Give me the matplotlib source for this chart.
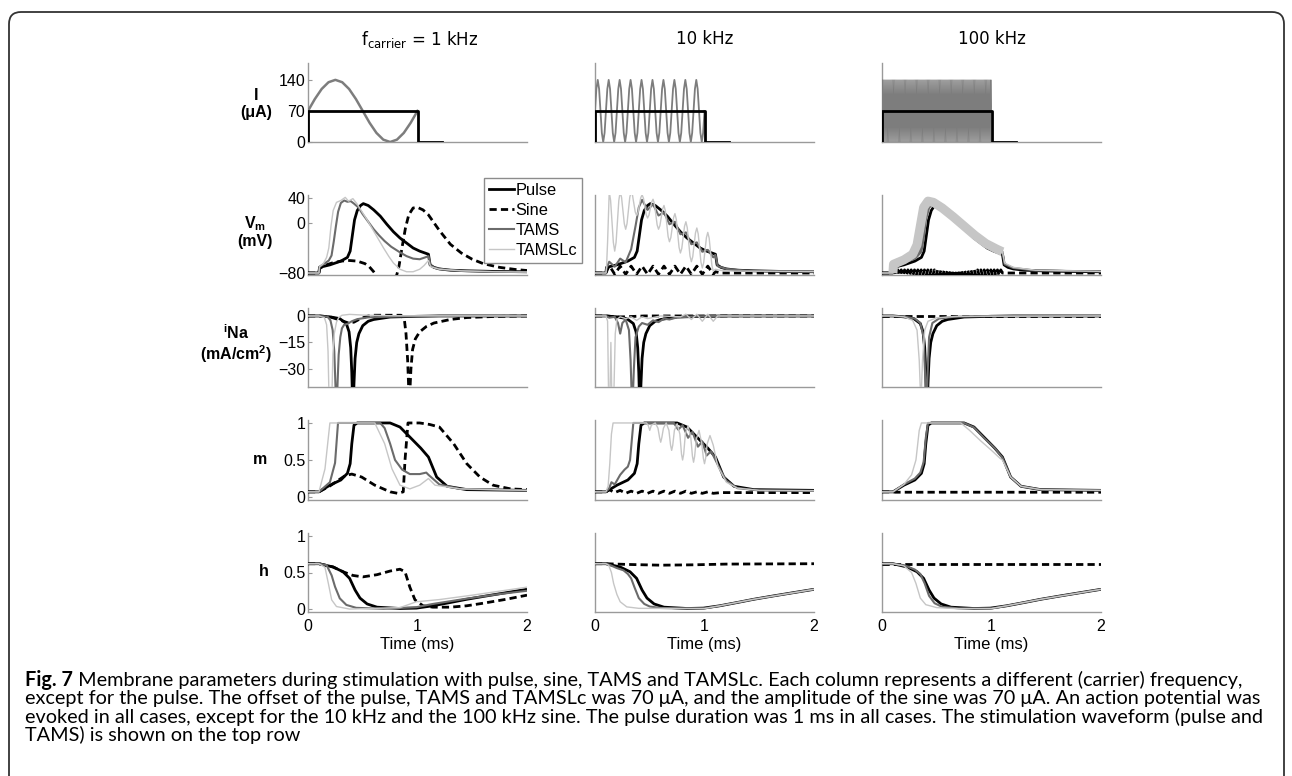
import numpy as np
import matplotlib.pyplot as plt
from matplotlib.patches import FancyBboxPatch
from matplotlib.transforms import IdentityTransform
from matplotlib.lines import Line2D

W, H, DPI = 1292, 776, 100

plt.rcParams['font.family'] = ['Liberation Sans', 'DejaVu Sans']
plt.rcParams['mathtext.fontset'] = 'custom'
plt.rcParams['mathtext.rm'] = 'Liberation Sans'
plt.rcParams['mathtext.it'] = 'Liberation Sans:italic'
plt.rcParams['mathtext.bf'] = 'Liberation Sans:bold'

# ---------------- data (time in ms) ----------------
col_titles = [r'f$_{\mathregular{carrier}}$ = 1 kHz', '10 kHz', '100 kHz']
series_names = ['Pulse', 'Sine', 'TAMS', 'TAMSLc']

# top row: stimulation current (uA)
i_pulse = [(0, 0), (0, 70), (1, 70), (1, 0), (1.22, 0)]
i_tams_1k = [(0, 70), (0.0625, 96.8), (0.125, 119.5), (0.1875, 134.7), (0.25, 140),
             (0.3125, 134.7), (0.375, 119.5), (0.4375, 96.8), (0.5, 70), (0.5625, 43.2),
             (0.625, 20.5), (0.6875, 5.3), (0.75, 0), (0.8125, 5.3), (0.875, 20.5),
             (0.9375, 43.2), (1.0, 70)]
# sampled every 0.0125 ms from 0 to 1 ms
i_tams_10k = [
    70, 119.5, 140, 119.5, 70, 20.5, 0, 20.5,
    70, 119.5, 140, 119.5, 70, 20.5, 0, 20.5,
    70, 119.5, 140, 119.5, 70, 20.5, 0, 20.5,
    70, 119.5, 140, 119.5, 70, 20.5, 0, 20.5,
    70, 119.5, 140, 119.5, 70, 20.5, 0, 20.5,
    70, 119.5, 140, 119.5, 70, 20.5, 0, 20.5,
    70, 119.5, 140, 119.5, 70, 20.5, 0, 20.5,
    70, 119.5, 140, 119.5, 70, 20.5, 0, 20.5,
    70, 119.5, 140, 119.5, 70, 20.5, 0, 20.5,
    70, 119.5, 140, 119.5, 70, 20.5, 0, 20.5,
    70]
# sampled every 0.005 ms from 0 to 1 ms
i_tams_100k = [
    70,
    140, 0, 140, 0, 140, 0, 140, 0, 140, 0,
    140, 0, 140, 0, 140, 0, 140, 0, 140, 0,
    140, 0, 140, 0, 140, 0, 140, 0, 140, 0,
    140, 0, 140, 0, 140, 0, 140, 0, 140, 0,
    140, 0, 140, 0, 140, 0, 140, 0, 140, 0,
    140, 0, 140, 0, 140, 0, 140, 0, 140, 0,
    140, 0, 140, 0, 140, 0, 140, 0, 140, 0,
    140, 0, 140, 0, 140, 0, 140, 0, 140, 0,
    140, 0, 140, 0, 140, 0, 140, 0, 140, 0,
    140, 0, 140, 0, 140, 0, 140, 0, 140, 0,
    140, 0, 140, 0, 140, 0, 140, 0, 140, 0,
    140, 0, 140, 0, 140, 0, 140, 0, 140, 0,
    140, 0, 140, 0, 140, 0, 140, 0, 140, 0,
    140, 0, 140, 0, 140, 0, 140, 0, 140, 0,
    140, 0, 140, 0, 140, 0, 140, 0, 140, 0,
    140, 0, 140, 0, 140, 0, 140, 0, 140, 0,
    140, 0, 140, 0, 140, 0, 140, 0, 140, 0,
    140, 0, 140, 0, 140, 0, 140, 0, 140, 0,
    140, 0, 140, 0, 140, 0, 140, 0, 140, 0,
    140, 0, 140, 0, 140, 0, 140, 0, 140,
    70]

# membrane potential (mV)
vm_pulse = [(0, -80), (0.1, -80), (0.105, -71), (0.2, -67), (0.3, -61), (0.36, -55), (0.385, -45),
            (0.405, -20), (0.425, 5), (0.45, 20), (0.48, 28), (0.505, 31), (0.55, 28), (0.6, 21),
            (0.66, 11), (0.72, -2), (0.78, -14), (0.84, -24), (0.9, -32), (0.96, -40), (1.02, -45),
            (1.1, -50), (1.115, -67), (1.15, -71), (1.2, -73.5), (1.3, -75.5), (1.45, -76.5),
            (1.7, -77.5), (2.0, -78)]
vm_sine_1k = [(0, -80), (0.1, -80), (0.105, -73), (0.15, -68), (0.22, -64), (0.3, -61), (0.38, -60),
              (0.45, -61), (0.52, -65), (0.56, -70), (0.6, -78), (0.64, -88), (0.72, -97), (0.8, -90),
              (0.83, -70), (0.86, -38), (0.89, -8), (0.92, 13), (0.96, 24), (1.0, 25), (1.05, 21),
              (1.1, 13), (1.2, -12), (1.3, -34), (1.4, -48), (1.5, -58), (1.6, -65), (1.75, -71),
              (1.9, -74.5), (2.0, -76)]
vm_tams_1k = [(0, -80), (0.1, -80), (0.105, -70), (0.15, -65), (0.19, -60), (0.215, -52), (0.235, -30),
              (0.255, -5), (0.275, 18), (0.3, 32), (0.33, 36), (0.36, 34), (0.39, 35), (0.42, 31),
              (0.46, 25), (0.5, 14), (0.55, 2), (0.6, -10), (0.65, -20), (0.7, -29), (0.76, -38),
              (0.84, -47), (0.9, -53), (0.96, -57), (1.02, -58), (1.07, -55), (1.1, -53), (1.12, -68),
              (1.16, -72), (1.25, -74.5), (1.4, -76.5), (1.7, -78), (2.0, -78.5)]
vm_tamslc_1k = [(0, -80), (0.1, -80), (0.105, -70), (0.14, -65), (0.17, -55), (0.19, -40), (0.21, -5),
                (0.23, 20), (0.26, 33), (0.3, 36), (0.34, 41), (0.37, 35), (0.41, 39), (0.45, 30),
                (0.5, 16), (0.54, 5), (0.6, -13), (0.65, -28), (0.69, -40), (0.74, -54), (0.78, -64),
                (0.84, -74), (0.9, -78), (0.96, -78), (1.02, -74), (1.06, -68), (1.1, -60), (1.12, -70),
                (1.2, -74), (1.4, -76.5), (1.7, -78), (2.0, -78.5)]
vm_sine_10k = [(0, -80), (0.1, -80), (0.13, -68), (0.18, -82), (0.23, -69), (0.28, -82), (0.33, -69),
               (0.38, -82), (0.43, -69), (0.48, -82), (0.53, -69), (0.58, -82), (0.63, -69), (0.68, -82),
               (0.73, -69), (0.78, -82), (0.83, -69), (0.88, -82), (0.93, -69), (0.98, -82), (1.03, -69),
               (1.08, -82), (1.1, -78), (1.15, -80), (2.0, -80)]
vm_tams_10k = [(0, -80), (0.1, -80), (0.105, -72), (0.13, -62), (0.18, -70), (0.23, -57), (0.28, -63),
               (0.33, -42), (0.37, -5), (0.4, 25), (0.43, 37), (0.48, 21), (0.53, 30), (0.58, 12),
               (0.63, 17), (0.68, -2), (0.73, 2), (0.78, -18), (0.83, -15), (0.88, -34), (0.93, -31),
               (0.98, -46), (1.03, -43), (1.08, -55), (1.1, -51), (1.12, -69), (1.2, -73.5), (1.4, -76.5),
               (1.7, -77.5), (2.0, -78)]
vm_tamslc_10k = [(0, -80), (0.1, -80), (0.105, -72), (0.115, -30), (0.13, 50),
                 (0.1425, 36), (0.1675, -31), (0.18, -45), (0.1925, -31), (0.2175, 36), (0.23, 50),
                 (0.2425, 41), (0.2675, -1), (0.28, -10), (0.2925, -1), (0.3175, 41), (0.33, 50),
                 (0.3425, 44.4), (0.3675, 17.6), (0.38, 12), (0.3925, 16.8), (0.4175, 40.2), (0.43, 45),
                 (0.4425, 39.6), (0.4675, 13.4), (0.48, 8), (0.4925, 12.4), (0.5175, 33.6), (0.53, 38),
                 (0.5425, 31), (0.5675, -3), (0.58, -10), (0.5925, -4.4), (0.6175, 22.4), (0.63, 28),
                 (0.6425, 19.5), (0.6675, -21.5), (0.68, -30), (0.6925, -23.4), (0.7175, 8.4), (0.73, 15),
                 (0.7425, 5.8), (0.7675, -38.8), (0.78, -48), (0.7925, -40.7), (0.8175, -5.3), (0.83, 2),
                 (0.8425, -7.4), (0.8675, -52.6), (0.88, -62), (0.8925, -54.1), (0.9175, -15.9), (0.93, -8),
                 (0.9425, -17.4), (0.9675, -62.6), (0.98, -72), (0.9925, -63.6), (1.0175, -23.4), (1.03, -15),
                 (1.0425, -24.1), (1.0675, -67.9), (1.08, -77), (1.1, -74), (1.15, -76), (1.3, -77),
                 (2.0, -77.5)]
vm_sine_100k_head = [(0, -80), (0.1, -80)]
# sampled on 67 points from 0.1 to 1.1 ms
vm_sine_100k = [
    -80,
    -75, -84, -75, -84, -75, -84, -75, -84, -75, -84,
    -75, -84, -75, -84, -75, -84, -75, -84, -75, -84,
    -75, -84, -75, -84, -75, -84, -75, -84, -75, -84,
    -75, -84, -75, -84, -75, -84, -75, -84, -75, -84,
    -75, -84, -75, -84, -75, -84, -75, -84, -75, -84,
    -75, -84, -75, -84, -75, -84, -75, -84, -75, -84,
    -75, -84, -75, -84, -75,
    -80]
vm_sine_100k_tail = [(1.1, -80), (2.0, -80)]
vm_tams_100k = [(0, -80), (0.1, -80), (0.105, -68), (0.2, -62), (0.3, -55), (0.35, -45), (0.37, -25),
                (0.39, 5), (0.42, 25), (0.46, 33), (0.5, 31), (0.6, 20), (0.7, 5), (0.8, -12),
                (0.9, -27), (1.0, -38), (1.1, -46), (1.12, -66), (1.2, -72), (1.4, -76), (2.0, -77.5)]
vm_tamslc_100k = [(0, -80), (0.1, -80), (0.105, -66), (0.2, -59), (0.28, -50), (0.32, -35), (0.35, -5),
                  (0.38, 25), (0.42, 35), (0.47, 33), (0.55, 24), (0.65, 10), (0.75, -5), (0.85, -20),
                  (0.95, -33), (1.05, -42), (1.1, -46), (1.12, -64), (1.2, -71), (1.4, -75.5), (2.0, -77.5)]

# sodium current (mA/cm2)
ina_pulse = [(0, 0), (0.1, 0), (0.2, -0.5), (0.29, -1.5), (0.35, -4.3), (0.375, -9), (0.39, -18), (0.4, -32),
             (0.41, -55), (0.42, -38), (0.43, -24), (0.445, -15), (0.465, -10), (0.5, -5.5), (0.55, -3),
             (0.6, -2), (0.75, -0.6), (1.0, -0.2), (1.2, 0), (2.0, 0)]
ina_sine_1k = [(0, 0), (0.1, 0), (0.2, -0.5), (0.3, -2.5), (0.37, -4), (0.42, -3.5), (0.48, -1.5), (0.55, 0),
               (0.6, 0.4), (0.85, 0.4), (0.88, -2), (0.895, -10), (0.91, -25), (0.925, -50), (0.94, -30),
               (0.955, -19), (0.98, -13), (1.02, -9), (1.08, -6), (1.15, -4), (1.3, -2), (1.45, -0.9),
               (1.7, -0.3), (2.0, 0)]
ina_tams_1k = [(0, 0), (0.1, 0), (0.18, -0.5), (0.205, -2.5), (0.225, -8), (0.24, -20), (0.25, -38),
               (0.26, -55), (0.27, -38), (0.28, -22), (0.295, -12), (0.31, -7), (0.33, -5), (0.36, -4.5),
               (0.4, -3), (0.45, -1.8), (0.55, -0.8), (0.8, -0.3), (1.2, 0), (2.0, 0)]
ina_tamslc_1k = [(0, 0), (0.1, 0), (0.15, -1), (0.17, -5), (0.183, -20), (0.195, -55), (0.215, -55),
                 (0.227, -22), (0.24, -10), (0.26, -3.5), (0.28, -1), (0.31, 0.4), (0.38, 0.9), (0.5, 0.5),
                 (0.8, 0.1), (2.0, 0)]
ina_sine_10k = [(0, 0), (0.1, 0), (0.2, -0.6), (0.3, -0.4), (0.45, 0), (2.0, 0)]
ina_tams_10k = [(0, 0), (0.1, 0), (0.13, -1), (0.18, -0.5), (0.21, -4), (0.23, -10), (0.25, -4), (0.28, -2),
                (0.31, -8), (0.325, -25), (0.34, -55), (0.355, -30), (0.37, -12), (0.4, -6), (0.43, -4),
                (0.48, -5), (0.53, -2.5), (0.58, -3.5), (0.63, -1.5), (0.68, -2), (0.75, -0.8), (0.9, -0.3),
                (1.1, 0), (2.0, 0)]
ina_tamslc_10k = [(0, 0), (0.1, 0), (0.115, -3), (0.125, -50), (0.135, -50), (0.145, -15), (0.155, -50),
                  (0.17, -50), (0.185, -10), (0.2, -2), (0.23, -0.5), (0.28, -1.5), (0.33, -0.5), (0.38, -2.5),
                  (0.43, -0.5), (0.48, -1.5), (0.6, 0), (0.78, -0.5), (0.83, 1), (0.88, -2), (0.93, 1),
                  (0.98, -3), (1.03, 1), (1.08, -3), (1.12, 0), (2.0, 0)]
ina_sine_100k = [(0, 0), (2.0, 0)]
ina_tams_100k = [(0, 0), (0.1, 0), (0.2, -0.3), (0.3, -1.5), (0.35, -4), (0.38, -12), (0.395, -35),
                 (0.405, -55), (0.415, -35), (0.43, -12), (0.46, -4), (0.52, -1.5), (0.65, -0.5), (1.0, 0),
                 (2.0, 0)]
ina_tamslc_100k = [(0, 0), (0.1, 0), (0.2, -0.5), (0.28, -2.5), (0.32, -8), (0.34, -25), (0.355, -50),
                   (0.37, -25), (0.39, -8), (0.42, -3), (0.5, -1), (0.7, -0.2), (2.0, 0)]

# m gate
m_pulse = [(0, 0.07), (0.1, 0.07), (0.2, 0.16), (0.3, 0.23), (0.36, 0.32), (0.385, 0.45), (0.4, 0.72),
           (0.42, 0.97), (0.45, 1.0), (0.75, 1.0), (0.84, 0.945), (0.93, 0.81), (1.03, 0.66), (1.1, 0.54),
           (1.175, 0.27), (1.27, 0.145), (1.45, 0.1), (2.0, 0.09)]
m_sine_1k = [(0, 0.07), (0.1, 0.07), (0.2, 0.15), (0.34, 0.29), (0.4, 0.31), (0.49, 0.27), (0.61, 0.16),
             (0.75, 0.07), (0.82, 0.05), (0.87, 0.07), (0.886, 0.5), (0.913, 1.0), (1.02, 1.0), (1.11, 0.98),
             (1.2, 0.945), (1.33, 0.72), (1.45, 0.45), (1.57, 0.27), (1.69, 0.16), (1.85, 0.11), (2.0, 0.1)]
m_tams_1k = [(0, 0.07), (0.1, 0.07), (0.2, 0.2), (0.247, 0.46), (0.274, 1.0), (0.66, 1.0), (0.7, 0.93),
             (0.75, 0.72), (0.795, 0.5), (0.86, 0.37), (0.93, 0.31), (1.02, 0.31), (1.08, 0.33), (1.1, 0.3),
             (1.2, 0.17), (1.39, 0.11), (2.0, 0.09)]
m_tamslc_1k = [(0, 0.07), (0.1, 0.07), (0.155, 0.38), (0.2, 1.0), (0.61, 1.0), (0.7, 0.72), (0.767, 0.38),
               (0.84, 0.16), (0.93, 0.11), (1.02, 0.16), (1.1, 0.25), (1.16, 0.16), (1.39, 0.11), (2.0, 0.09)]
m_sine_10k = [(0, 0.07), (0.1, 0.07), (0.13, 0.1), (0.18, 0.06), (0.23, 0.09), (0.28, 0.05), (0.33, 0.08),
              (0.38, 0.05), (0.43, 0.08), (0.48, 0.05), (0.53, 0.08), (0.58, 0.05), (0.63, 0.08), (0.68, 0.05),
              (0.73, 0.08), (0.78, 0.05), (0.83, 0.08), (0.88, 0.05), (0.93, 0.07), (0.98, 0.05), (1.03, 0.07),
              (1.08, 0.05), (1.15, 0.06), (2.0, 0.06)]
m_tams_10k = [(0, 0.07), (0.1, 0.07), (0.13, 0.12), (0.15, 0.2), (0.18, 0.17), (0.23, 0.3), (0.27, 0.37),
              (0.3, 0.41), (0.32, 0.5), (0.35, 1.0), (0.72, 1.0), (0.76, 0.91), (0.8, 0.97), (0.85, 0.8),
              (0.89, 0.88), (0.94, 0.68), (0.98, 0.75), (1.02, 0.56), (1.06, 0.62), (1.1, 0.5), (1.15, 0.35),
              (1.2, 0.22), (1.3, 0.12), (1.5, 0.09), (2.0, 0.085)]
m_tamslc_10k = [(0, 0.07), (0.1, 0.07), (0.12, 0.15), (0.135, 0.45), (0.15, 0.85), (0.165, 1.0), (0.47, 1.0),
                (0.485, 0.97), (0.5, 0.9), (0.515, 0.97), (0.55, 1.0),
                (0.575, 0.93), (0.59, 0.8), (0.6, 0.74), (0.61, 0.8), (0.625, 0.93), (0.65, 1.0),
                (0.675, 0.9), (0.69, 0.7), (0.7, 0.63), (0.71, 0.7), (0.725, 0.9), (0.75, 0.99),
                (0.775, 0.85), (0.79, 0.58), (0.8, 0.5), (0.81, 0.58), (0.825, 0.85), (0.85, 0.96),
                (0.875, 0.8), (0.89, 0.55), (0.9, 0.47), (0.91, 0.55), (0.925, 0.78), (0.95, 0.9),
                (0.975, 0.72), (0.99, 0.52), (1.0, 0.45), (1.01, 0.52), (1.025, 0.72), (1.05, 0.83),
                (1.08, 0.7), (1.12, 0.42), (1.2, 0.2), (1.3, 0.12), (1.5, 0.09), (2.0, 0.085)]
m_sine_100k = [(0, 0.07), (0.1, 0.07), (0.12, 0.065), (2.0, 0.065)]
m_tams_100k = [(0, 0.07), (0.1, 0.07), (0.2, 0.17), (0.3, 0.25), (0.35, 0.33), (0.38, 0.47), (0.4, 0.8),
               (0.42, 1.0), (0.75, 1.0), (0.84, 0.94), (0.93, 0.8), (1.03, 0.66), (1.1, 0.53), (1.175, 0.27),
               (1.27, 0.145), (1.45, 0.1), (2.0, 0.09)]
m_tamslc_100k = [(0, 0.07), (0.1, 0.07), (0.2, 0.17), (0.27, 0.3), (0.31, 0.5), (0.34, 0.9), (0.36, 1.0),
                 (0.72, 1.0), (0.8, 0.9), (0.9, 0.76), (1.0, 0.63), (1.08, 0.52), (1.1, 0.5), (1.175, 0.27),
                 (1.27, 0.145), (1.45, 0.1), (2.0, 0.09)]

# h gate
h_pulse = [(0, 0.62), (0.1, 0.62), (0.23, 0.575), (0.32, 0.51), (0.38, 0.42), (0.43, 0.26), (0.475, 0.15),
           (0.54, 0.07), (0.63, 0.026), (0.84, 0.008), (0.99, 0.013), (1.14, 0.045), (1.3, 0.09),
           (1.45, 0.134), (1.63, 0.18), (1.81, 0.224), (2.0, 0.27)]
h_sine_1k = [(0, 0.62), (0.1, 0.62), (0.23, 0.575), (0.32, 0.51), (0.41, 0.46), (0.5, 0.44), (0.63, 0.47),
             (0.75, 0.52), (0.84, 0.545), (0.886, 0.51), (0.93, 0.3), (0.977, 0.126), (1.05, 0.045),
             (1.14, 0.026), (1.3, 0.026), (1.45, 0.045), (1.6, 0.08), (1.81, 0.134), (2.0, 0.19)]
h_tams_1k = [(0, 0.62), (0.1, 0.62), (0.17, 0.6), (0.216, 0.46), (0.247, 0.305), (0.29, 0.147), (0.35, 0.057),
             (0.44, 0.017), (0.69, 0.004), (0.99, 0.026), (1.14, 0.07), (1.45, 0.143), (1.75, 0.206), (2.0, 0.25)]
h_tamslc_1k = [(0, 0.62), (0.1, 0.62), (0.155, 0.57), (0.186, 0.35), (0.216, 0.126), (0.26, 0.035),
               (0.38, 0.0), (0.84, 0.02), (0.99, 0.1), (1.2, 0.13), (1.5, 0.19), (2.0, 0.3)]
h_sine_10k = [(0, 0.62), (0.1, 0.62), (0.3, 0.61), (0.6, 0.6), (0.9, 0.605), (1.2, 0.615), (2.0, 0.62)]
h_tams_10k = [(0, 0.62), (0.1, 0.62), (0.14, 0.6), (0.2, 0.56), (0.26, 0.53), (0.3, 0.48), (0.33, 0.42),
              (0.36, 0.3), (0.4, 0.15), (0.45, 0.07), (0.5, 0.035), (0.6, 0.015), (0.8, 0.008), (1.0, 0.01),
              (1.14, 0.045), (1.3, 0.09), (1.45, 0.134), (1.63, 0.18), (1.81, 0.224), (2.0, 0.27)]
h_tamslc_10k = [(0, 0.62), (0.1, 0.62), (0.125, 0.6), (0.15, 0.5), (0.17, 0.35), (0.2, 0.2), (0.23, 0.1),
                (0.29, 0.03), (0.4, 0.01), (1.0, 0.008), (1.14, 0.045), (1.45, 0.134), (2.0, 0.27)]
h_sine_100k = [(0, 0.62), (2.0, 0.62)]
h_tams_100k = [(0, 0.62), (0.1, 0.62), (0.2, 0.6), (0.3, 0.54), (0.35, 0.48), (0.39, 0.35), (0.43, 0.18),
               (0.48, 0.08), (0.55, 0.03), (0.7, 0.01), (1.0, 0.008), (1.14, 0.045), (1.3, 0.09),
               (1.45, 0.134), (1.63, 0.18), (1.81, 0.224), (2.0, 0.27)]
h_tamslc_100k = [(0, 0.62), (0.1, 0.62), (0.2, 0.59), (0.27, 0.5), (0.31, 0.35), (0.35, 0.15), (0.4, 0.06),
                 (0.5, 0.02), (0.7, 0.005), (1.0, 0.008), (1.14, 0.045), (1.45, 0.134), (2.0, 0.27)]

row_labels = ['I\n(μA)', r'$\mathbf{V_m}$' + '\n(mV)', r'$\mathbf{{}^{i}Na}$' + '\n(mA/cm$\\mathbf{^2}$)', 'm', 'h']
ylims = [(0, 178), (-83.2, 44.8), (-40.2, 4.5), (-0.04, 1.04), (-0.04, 1.04)]
yticks = [[0, 70, 140], [-80, 0, 40], [-30, -15, 0], [0, 0.5, 1], [0, 0.5, 1]]
yticklabels = [['0', '70', '140'], ['−80', '0', '40'], ['−30', '−15', '0'], ['0', '0.5', '1'], ['0', '0.5', '1']]
xticks = [0, 1, 2]

caption_bold = 'Fig. 7'
caption_lines = [
    ' Membrane parameters during stimulation with pulse, sine, TAMS and TAMSLc. Each column represents a different (carrier) frequency,',
    'except for the pulse. The offset of the pulse, TAMS and TAMSLc was 70 μA, and the amplitude of the sine was 70 μA. An action potential was',
    'evoked in all cases, except for the 10 kHz and the 100 kHz sine. The pulse duration was 1 ms in all cases. The stimulation waveform (pulse and',
    'TAMS) is shown on the top row',
]

# ---------------- styles / layout ----------------
STYLE = {
    'Pulse': dict(color='black', lw=2.0, zorder=3),
    'Sine': dict(color='black', lw=2.0, ls=(0, (2.6, 1.5)), zorder=3),
    'TAMS': dict(color='#6b6b6b', lw=1.5, zorder=4),
    'TAMSLc': dict(color='#c6c6c6', lw=1.0, zorder=5),
}
SPINE = '#9a9a9a'

col_left = [308, 595, 882]
col_w = 219
row_top = [63, 195, 308, 420, 533]
row_bot = [142, 275, 387, 500, 612]


def xy(pairs):
    t, v = zip(*pairs)
    return np.array(t), np.array(v)


fig = plt.figure(figsize=(W / DPI, H / DPI), dpi=DPI)

grid_10k = np.linspace(0, 1, len(i_tams_10k))
grid_100k = np.linspace(0, 1, len(i_tams_100k))
grid_sine100k = np.linspace(0.1, 1.1, len(vm_sine_100k))

data = {
    1: [dict(Pulse=vm_pulse, Sine=vm_sine_1k, TAMS=vm_tams_1k, TAMSLc=vm_tamslc_1k),
        dict(Pulse=vm_pulse, Sine=vm_sine_10k, TAMS=vm_tams_10k, TAMSLc=vm_tamslc_10k),
        dict(Pulse=vm_pulse, Sine=None, TAMS=vm_tams_100k, TAMSLc=vm_tamslc_100k)],
    2: [dict(Pulse=ina_pulse, Sine=ina_sine_1k, TAMS=ina_tams_1k, TAMSLc=ina_tamslc_1k),
        dict(Pulse=ina_pulse, Sine=ina_sine_10k, TAMS=ina_tams_10k, TAMSLc=ina_tamslc_10k),
        dict(Pulse=ina_pulse, Sine=ina_sine_100k, TAMS=ina_tams_100k, TAMSLc=ina_tamslc_100k)],
    3: [dict(Pulse=m_pulse, Sine=m_sine_1k, TAMS=m_tams_1k, TAMSLc=m_tamslc_1k),
        dict(Pulse=m_pulse, Sine=m_sine_10k, TAMS=m_tams_10k, TAMSLc=m_tamslc_10k),
        dict(Pulse=m_pulse, Sine=m_sine_100k, TAMS=m_tams_100k, TAMSLc=m_tamslc_100k)],
    4: [dict(Pulse=h_pulse, Sine=h_sine_1k, TAMS=h_tams_1k, TAMSLc=h_tamslc_1k),
        dict(Pulse=h_pulse, Sine=h_sine_10k, TAMS=h_tams_10k, TAMSLc=h_tamslc_10k),
        dict(Pulse=h_pulse, Sine=h_sine_100k, TAMS=h_tams_100k, TAMSLc=h_tamslc_100k)],
}

axes = {}
for r in range(5):
    for c in range(3):
        ax = fig.add_axes([col_left[c] / W, 1 - row_bot[r] / H, col_w / W, (row_bot[r] - row_top[r]) / H])
        axes[r, c] = ax
        for s in ['top', 'right']:
            ax.spines[s].set_visible(False)
        for s in ['left', 'bottom']:
            ax.spines[s].set_color(SPINE)
            ax.spines[s].set_linewidth(1.0)
        ax.set_xlim(0, 2)
        ax.set_ylim(*ylims[r])
        ax.tick_params(direction='in', length=3, width=0.8, color=SPINE, labelsize=11.5, pad=2)
        if c == 0:
            ax.set_yticks(yticks[r])
            ax.set_yticklabels(yticklabels[r])
        else:
            ax.set_yticks([])
        if r == 4:
            ax.set_xticks(xticks)
            ax.set_xticklabels([str(v) for v in xticks])
            ax.tick_params(axis='x', length=0, pad=5)
            ax.set_xlabel('Time (ms)', fontsize=12, labelpad=2)
        else:
            ax.set_xticks([])
        ax.patch.set_alpha(0)

# top row: stimulus
for c, (tt, vv) in enumerate([xy(i_tams_1k), (grid_10k, i_tams_10k), (grid_100k, i_tams_100k)]):
    ax = axes[0, c]
    ax.plot(tt, vv, color='#7d7d7d', lw=[1.8, 1.3, 0.6][c], zorder=3)
    t, v = xy(i_pulse)
    ax.plot(t, v, color='black', lw=2.0, zorder=4)

# rows 2-5
for r in range(1, 5):
    for c in range(3):
        ax = axes[r, c]
        for name in series_names:
            st = dict(STYLE[name])
            if r == 1 and c == 2 and name == 'Sine':
                t0, v0 = xy(vm_sine_100k_head)
                t1, v1 = xy(vm_sine_100k_tail)
                tt = np.concatenate([t0, grid_sine100k, t1])
                vv = np.concatenate([v0, vm_sine_100k, v1])
                ax.plot(tt, vv, **st)
                continue
            t, v = xy(data[r][c][name])
            ax.plot(t, v, solid_capstyle='butt', **st)
            if r == 1 and c == 2 and name in ('TAMS', 'TAMSLc'):
                # 100 kHz ripple seen as a broad band while the stimulus is on
                on = (t >= 0.1) & (t <= 1.1)
                band = dict(st)
                band['lw'] = 3.2 if name == 'TAMS' else 6.5
                ax.plot(t[on], v[on], solid_capstyle='butt', **band)

# legend
handles = [Line2D([], [], **{k: v for k, v in STYLE[n].items() if k != 'zorder'}) for n in series_names]
leg = axes[1, 0].legend(handles, series_names, loc='upper left', bbox_to_anchor=(484 / W, 1 - 178 / H),
                        bbox_transform=fig.transFigure, borderaxespad=0, fontsize=11.8, frameon=True,
                        fancybox=False, framealpha=1, edgecolor='#8c8c8c', handlelength=1.5,
                        handletextpad=0.1, labelspacing=0.3, borderpad=0.3)
leg.get_frame().set_linewidth(1.0)
leg.set_zorder(10)

# row labels
label_pos = [(256, 104), (255, 232), (236, 344), (260, 459), (264, 571)]
for lab, (x, y) in zip(row_labels, label_pos):
    fig.text(x / W, 1 - y / H, lab, ha='center', va='center', fontsize=11.5, fontweight='bold',
             linespacing=1.1)

# column titles
for c, title in enumerate(col_titles):
    xc = col_left[c] + col_w / 2 + (2 if c == 0 else 0)
    fig.text(xc / W, 1 - 39 / H, title, ha='center', va='center', fontsize=12,
             family='DejaVu Sans', math_fontfamily='dejavusans')

# rounded frame around figure + caption
frame = FancyBboxPatch((9, -30), 1275, 764 + 30, boxstyle='round,pad=0,rounding_size=12',
                       transform=IdentityTransform(), fill=False, edgecolor='#333333', lw=1.3)
fig.patches.append(frame)

# caption
renderer = fig.canvas.get_renderer()
cap_family = ['Lato', 'DejaVu Sans']
probe = fig.text(0, 0, caption_lines[1], fontsize=11, family=cap_family)
cap_size = 11 * 1233 / probe.get_window_extent(renderer).width
probe.remove()

cap_y = [680, 698.5, 717, 735]
bold = fig.text(25 / W, 1 - cap_y[0] / H, caption_bold, fontsize=cap_size, fontweight='bold',
                family=cap_family, va='center', ha='left')
bw = bold.get_window_extent(renderer).width
fig.text((25 + bw) / W, 1 - cap_y[0] / H, caption_lines[0], fontsize=cap_size, family=cap_family,
         va='center', ha='left')
for line, y in zip(caption_lines[1:], cap_y[1:]):
    fig.text(25 / W, 1 - y / H, line, fontsize=cap_size, family=cap_family, va='center', ha='left')

fig.savefig('out.png', dpi=DPI)
